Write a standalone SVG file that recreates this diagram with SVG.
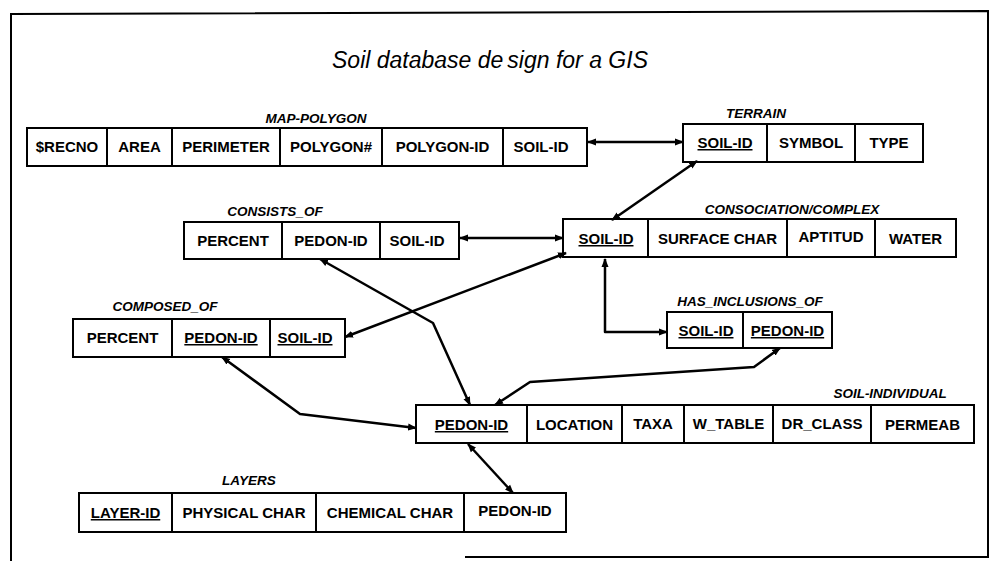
<svg xmlns="http://www.w3.org/2000/svg" width="990" height="561" viewBox="0 0 990 561">
<style>
.bg{fill:#fff}
.frame{fill:none;stroke:#000;stroke-width:2}
.cell{fill:#fff;stroke:#000;stroke-width:2}
.t{font-family:"Liberation Sans",Arial,sans-serif;font-weight:bold;font-size:15px;text-anchor:middle;fill:#000}
.u{text-decoration:underline}
.lbl{font-family:"Liberation Sans",Arial,sans-serif;font-weight:bold;font-style:italic;font-size:13.5px;text-anchor:middle;fill:#000}
.title{font-family:"Liberation Sans",Arial,sans-serif;font-style:italic;font-size:23px;text-anchor:middle;fill:#000}
.c{fill:none;stroke:#000;stroke-width:2.5;stroke-linejoin:round;marker-start:url(#ah);marker-end:url(#ah)}
</style>
<defs>
<marker id="ah" markerUnits="userSpaceOnUse" markerWidth="9" markerHeight="8" refX="8" refY="4" orient="auto-start-reverse" viewBox="0 0 9 8">
<path d="M0,0.5 L9,4 L0,7.5 z" fill="#000"/>
</marker>
</defs>
<rect class="bg" x="0" y="0" width="990" height="561"/>
<path class="frame" d="M11,561 L11,14 L988,11 L988,557 L465,557"/>
<text class="title" x="490" y="68">Soil database de<tspan dx="4">sign for a GIS</tspan></text>

<g id="map-polygon">
<text class="lbl" x="316" y="123">MAP-POLYGON</text>
<rect class="cell" x="27" y="128" width="80" height="38"/>
<rect class="cell" x="107" y="128" width="65" height="38"/>
<rect class="cell" x="172" y="128" width="108" height="38"/>
<rect class="cell" x="280" y="128" width="102" height="38"/>
<rect class="cell" x="382" y="128" width="121" height="38"/>
<rect class="cell" x="503" y="128" width="84" height="38"/>
<text class="t" x="67" y="152">$RECNO</text>
<text class="t" x="139.5" y="152">AREA</text>
<text class="t" x="226" y="152">PERIMETER</text>
<text class="t" x="331" y="152">POLYGON#</text>
<text class="t" x="442.5" y="152">POLYGON-ID</text>
<text class="t" x="541" y="152">SOIL-ID</text>
</g>

<g id="terrain">
<text class="lbl" x="756" y="118">TERRAIN</text>
<rect class="cell" x="683" y="124" width="84" height="38"/>
<rect class="cell" x="767" y="124" width="88" height="38"/>
<rect class="cell" x="855" y="124" width="68" height="38"/>
<text class="t u" x="725" y="148">SOIL-ID</text>
<text class="t" x="811" y="148">SYMBOL</text>
<text class="t" x="889" y="148">TYPE</text>
</g>

<g id="consists-of">
<text class="lbl" x="275" y="216">CONSISTS_OF</text>
<rect class="cell" x="184" y="222" width="98" height="37"/>
<rect class="cell" x="282" y="222" width="98" height="37"/>
<rect class="cell" x="380" y="222" width="79" height="37"/>
<text class="t" x="233" y="246">PERCENT</text>
<text class="t" x="331" y="246">PEDON-ID</text>
<text class="t" x="417" y="246">SOIL-ID</text>
</g>

<g id="consociation-complex">
<text class="lbl" x="792" y="214">CONSOCIATION/COMPLEX</text>
<rect class="cell" x="563" y="219" width="85" height="38"/>
<rect class="cell" x="648" y="219" width="139" height="38"/>
<rect class="cell" x="787" y="219" width="88" height="38"/>
<rect class="cell" x="875" y="219" width="81" height="38"/>
<text class="t u" x="606" y="244">SOIL-ID</text>
<text class="t" x="717.5" y="244">SURFACE CHAR</text>
<text class="t" x="831" y="242">APTITUD</text>
<text class="t" x="915.5" y="244">WATER</text>
</g>

<g id="composed-of">
<text class="lbl" x="165" y="311">COMPOSED_OF</text>
<rect class="cell" x="73" y="319" width="99" height="38"/>
<rect class="cell" x="172" y="319" width="98" height="38"/>
<rect class="cell" x="270" y="319" width="75" height="38"/>
<text class="t" x="122.5" y="343">PERCENT</text>
<text class="t u" x="221" y="343">PEDON-ID</text>
<text class="t u" x="305" y="343">SOIL-ID</text>
</g>

<g id="has-inclusions-of">
<text class="lbl" x="750" y="306">HAS_INCLUSIONS_OF</text>
<rect class="cell" x="667" y="312" width="76" height="36"/>
<rect class="cell" x="743" y="312" width="89" height="36"/>
<text class="t u" x="706" y="336">SOIL-ID</text>
<text class="t u" x="787.5" y="336">PEDON-ID</text>
</g>

<g id="soil-individual">
<text class="lbl" x="890" y="398">SOIL-INDIVIDUAL</text>
<rect class="cell" x="416" y="405" width="111" height="38"/>
<rect class="cell" x="527" y="405" width="95" height="38"/>
<rect class="cell" x="622" y="405" width="62" height="38"/>
<rect class="cell" x="684" y="405" width="89" height="38"/>
<rect class="cell" x="773" y="405" width="98" height="38"/>
<rect class="cell" x="871" y="405" width="103" height="38"/>
<text class="t u" x="471.5" y="430">PEDON-ID</text>
<text class="t" x="574.5" y="430">LOCATION</text>
<text class="t" x="653" y="429">TAXA</text>
<text class="t" x="728.5" y="429">W_TABLE</text>
<text class="t" x="822" y="429">DR_CLASS</text>
<text class="t" x="922.5" y="430">PERMEAB</text>
</g>

<g id="layers">
<text class="lbl" x="249" y="485">LAYERS</text>
<rect class="cell" x="79" y="493" width="93" height="39"/>
<rect class="cell" x="172" y="493" width="144" height="39"/>
<rect class="cell" x="316" y="493" width="148" height="39"/>
<rect class="cell" x="464" y="493" width="102" height="39"/>
<text class="t u" x="125.5" y="518">LAYER-ID</text>
<text class="t" x="244" y="518">PHYSICAL CHAR</text>
<text class="t" x="390" y="518">CHEMICAL CHAR</text>
<text class="t" x="515" y="516">PEDON-ID</text>
</g>

<g id="connectors">
<polyline class="c" points="588,142 683,142"/>
<polyline class="c" points="697,161 612,220"/>
<polyline class="c" points="460,238 563,238"/>
<polyline class="c" points="566,253 345,337"/>
<polyline class="c" points="605,259 605,332 667,332"/>
<polyline class="c" points="780,348 754,367 530,382 495,405"/>
<polyline class="c" points="320,259 433,323 470,405"/>
<polyline class="c" points="222,357 300,414 416,428"/>
<polyline class="c" points="468,444 513,493"/>
</g>
</svg>
